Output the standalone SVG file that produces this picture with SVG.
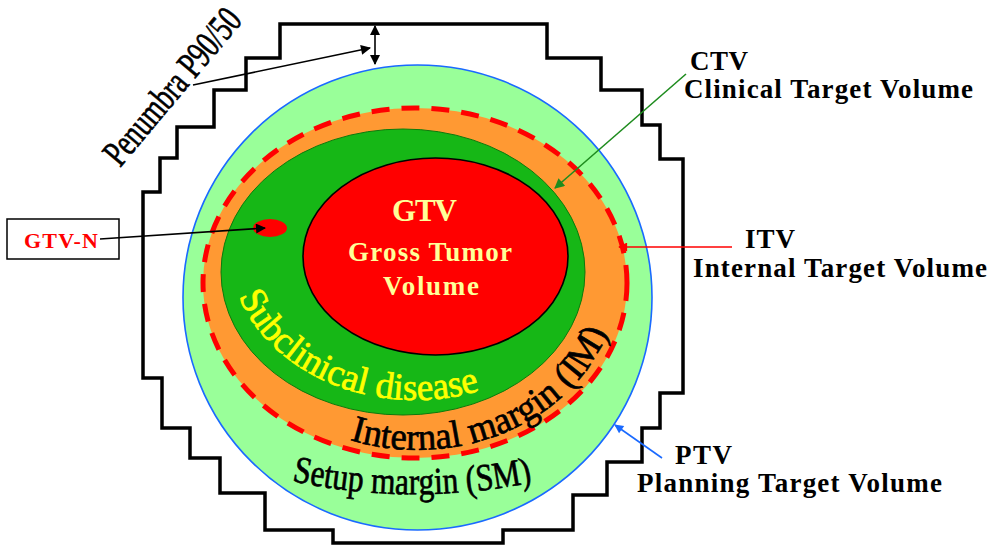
<svg xmlns="http://www.w3.org/2000/svg" width="990" height="547" viewBox="0 0 990 547">
<style>
.lbl{font-family:"Liberation Serif","Times New Roman",serif;font-weight:bold;font-size:27px;fill:#000}
.gtv{font-family:"Liberation Serif","Times New Roman",serif;font-weight:bold;fill:#FFFF99;text-anchor:middle}
.curv{font-family:"Liberation Serif","Times New Roman",serif;font-size:38px;stroke-width:0.7}
.conn{fill:none;stroke-width:1.6}
</style>
<defs>
<marker id="ahK" viewBox="0 0 10 10" refX="9" refY="5" markerUnits="userSpaceOnUse" markerWidth="12" markerHeight="10" orient="auto-start-reverse"><path d="M0,0 L10,5 L0,10 Z" fill="#000"/></marker>
<marker id="ahG" viewBox="0 0 10 10" refX="9" refY="5" markerUnits="userSpaceOnUse" markerWidth="12" markerHeight="10" orient="auto"><path d="M0,0 L10,5 L0,10 Z" fill="#1e8c1e"/></marker>
<marker id="ahR" viewBox="0 0 10 10" refX="9" refY="5" markerUnits="userSpaceOnUse" markerWidth="10" markerHeight="9" orient="auto"><path d="M0,0 L10,5 L0,10 Z" fill="#ff0000"/></marker>
<marker id="ahB" viewBox="0 0 10 10" refX="9" refY="5" markerUnits="userSpaceOnUse" markerWidth="11" markerHeight="9" orient="auto"><path d="M0,0 L10,5 L0,10 Z" fill="#1a6aff"/></marker>
<path id="pSub" d="M239,296.4 A185,150 0 0 0 507.5,379.9"/>
<path id="pIM" d="M349.9,440 A200,170 0 0 0 617,278"/>
<path id="pSM" d="M292,481 A300,150 0 0 0 538,481"/>
</defs>

<g id="penumbra-field">
<path d="M280,24 L547,24 L547,58 L601,58 L601,90 L642,90 L642,125 L660,125 L660,159 L683,159 L683,393 L660,393 L660,428 L642,428 L642,462 L607,462 L607,495 L573,495 L573,530 L503,530 L503,543 L333,543 L333,530 L265,530 L265,493 L220,493 L220,458 L190,458 L190,428 L162,428 L162,378 L143,378 L143,192 L160,192 L160,158 L177,158 L177,127 L214,127 L214,90 L246,90 L246,58 L280,58 Z" fill="none" stroke="#000" stroke-width="3.5" stroke-linejoin="miter"/>
<text class="curv" fill="#000" stroke="#000" transform="translate(120,168) rotate(-50)" textLength="192" lengthAdjust="spacingAndGlyphs" font-size="37">Penumbra P90/50</text>
</g>

<g id="ptv">
<ellipse cx="417.5" cy="297.5" rx="234.5" ry="232.5" fill="#99FF99" stroke="#1a6aff" stroke-width="1.6"/>
</g>

<g id="itv">
<ellipse cx="415" cy="283" rx="212" ry="175" fill="#FF9933"/>
<ellipse cx="415" cy="283" rx="212" ry="175" fill="none" stroke="#ff0000" stroke-width="5" stroke-dasharray="18 12"/>
</g>

<g id="ctv">
<ellipse cx="403" cy="272" rx="182" ry="143" fill="#16B716" stroke="#0c7a0c" stroke-width="1"/>
</g>

<g id="gtv">
<ellipse cx="435.5" cy="256.5" rx="132.5" ry="98.5" fill="#FF0000" stroke="#000" stroke-width="1.6"/>
<text class="gtv" x="424.5" y="221" font-size="31" textLength="65">GTV</text>
<text class="gtv" x="430" y="261" font-size="27" textLength="164">Gross Tumor</text>
<text class="gtv" x="431" y="295" font-size="27" textLength="96">Volume</text>
</g>

<g id="gtv-n-node">
<ellipse cx="270" cy="228" rx="17" ry="9" fill="#FF0000"/>
</g>

<g id="band-labels">
<text class="curv" fill="#FFFF00" stroke="#FFFF00"><textPath href="#pSub" textLength="282" lengthAdjust="spacingAndGlyphs">Subclinical disease</textPath></text>
<text class="curv" fill="#000" stroke="#000"><textPath href="#pIM" textLength="305" lengthAdjust="spacingAndGlyphs">Internal margin (IM)</textPath></text>
<text class="curv" fill="#000" stroke="#000" font-size="40"><textPath href="#pSM" textLength="242" lengthAdjust="spacingAndGlyphs">Setup margin (SM)</textPath></text>
</g>

<g id="gtv-n-label">
<rect x="7" y="219" width="112" height="40" fill="#fff" stroke="#000" stroke-width="1.5"/>
<text x="61" y="248" font-family="Liberation Serif, Times New Roman, serif" font-weight="bold" font-size="22" fill="#FF0000" text-anchor="middle" textLength="74">GTV-N</text>
</g>

<g id="ctv-label">
<text class="lbl" x="690" y="70" textLength="58">CTV</text>
<text class="lbl" x="684" y="98" textLength="289">Clinical Target Volume</text>
</g>
<g id="itv-label">
<text class="lbl" x="745" y="248" textLength="50">ITV</text>
<text class="lbl" x="693" y="277" textLength="294">Internal Target Volume</text>
</g>
<g id="ptv-label">
<text class="lbl" x="675" y="464" textLength="57">PTV</text>
<text class="lbl" x="637" y="492" textLength="305">Planning Target Volume</text>
</g>

<g id="connectors">
<line class="conn" x1="193" y1="85" x2="370" y2="48" stroke="#000" marker-end="url(#ahK)"/>
<line class="conn" x1="375" y1="26" x2="375" y2="64" stroke="#000" stroke-width="2" marker-start="url(#ahK)" marker-end="url(#ahK)"/>
<line class="conn" x1="100" y1="239" x2="265" y2="228" stroke="#000" marker-end="url(#ahK)"/>
<line class="conn" x1="686" y1="74" x2="555" y2="188" stroke="#1e8c1e" marker-end="url(#ahG)"/>
<line class="conn" x1="732" y1="247" x2="619" y2="247" stroke="#ff0000" marker-end="url(#ahR)"/>
<line class="conn" x1="662" y1="458" x2="615" y2="425" stroke="#1a6aff" marker-end="url(#ahB)"/>
</g>
</svg>
